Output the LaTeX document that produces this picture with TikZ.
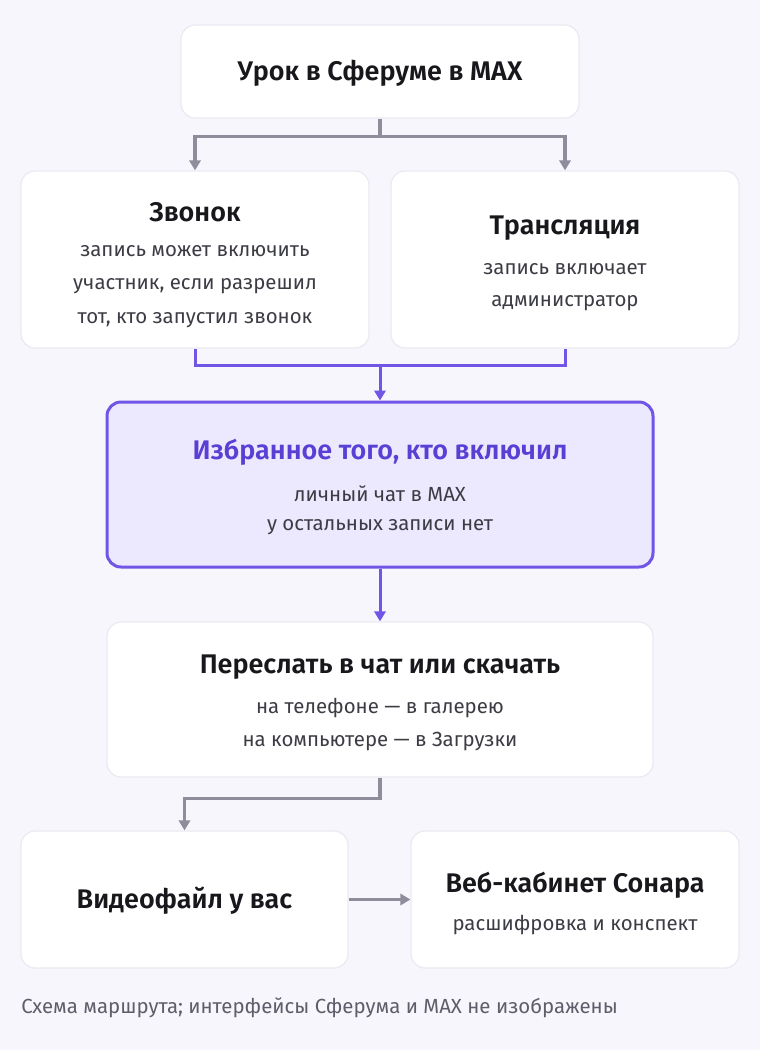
\documentclass[tikz,border=0pt]{standalone}
\usepackage{fontspec}
\setmainfont{Fira Sans}[BoldFont={Fira Sans SemiBold}]
\usetikzlibrary{arrows.meta}
\definecolor{pagebg}{HTML}{F7F6FC}
\definecolor{cardline}{HTML}{ECEAF2}
\definecolor{accent}{HTML}{7055E6}
\definecolor{accentfill}{HTML}{ECE8FD}
\definecolor{accenttext}{HTML}{5A3FD4}
\definecolor{linkgray}{HTML}{8F8C9C}
\definecolor{textprimary}{HTML}{17171C}
\definecolor{textsecondary}{HTML}{3C3C44}
\definecolor{notegray}{HTML}{5E5E6A}
\tikzset{
  card/.style={draw=cardline, line width=1pt, fill=white, rounded corners=10.5pt, inner sep=0pt},
  keycard/.style={draw=accent, line width=2.25pt, fill=accentfill, rounded corners=10.5pt, inner sep=0pt},
  headtext/.style={text=textprimary, font=\fontsize{20.2}{24}\selectfont\bfseries, inner sep=0pt},
  subtext/.style={text=textsecondary, font=\fontsize{15.3}{18}\selectfont, inner sep=0pt, yshift=-2.25pt},
  greylink/.style={linkgray, line width=2.4pt, -{Triangle[length=7.5pt,width=8.5pt]}},
  purplewire/.style={accent, line width=2.25pt},
  purplelink/.style={purplewire, -{Triangle[length=7.5pt,width=8.5pt]}}
}
\begin{document}
\begin{tikzpicture}[x=0.75pt,y=-0.75pt]
    \path[fill=pagebg] (0,0) rectangle (760,1050);

    % Lesson
    \node[card, minimum width=298.5pt, minimum height=69.75pt] (lesson) at (380,71.5) {};
    \node[headtext] (lessonT) at (380,73) {Урок в Сферуме в MAX};

    % Call
    \node[card, minimum width=261pt, minimum height=132.75pt] (call) at (195,259.5) {};
    \node[headtext] (callT) at (195,212) {Звонок};
    \node[subtext] (callA) at (195,248) {запись может включить};
    \node[subtext] (callB) at (195,283) {участник, если разрешил};
    \node[subtext] (callC) at (195,317) {тот, кто запустил звонок};

    % Stream
    \node[card, minimum width=261pt, minimum height=132.75pt] (stream) at (565,259.5) {};
    \node[headtext] (streamT) at (565,228) {Трансляция};
    \node[subtext] (streamA) at (565,266) {запись включает};
    \node[subtext] (streamB) at (565,300) {администратор};

    % Favourites
    \node[keycard, minimum width=409.5pt, minimum height=123.75pt] (fav) at (380,484.5) {};
    \node[headtext, text=accenttext] (favT) at (380,452) {Избранное того, кто включил};
    \node[subtext] (favA) at (380,491) {личный чат в MAX};
    \node[subtext] (favB) at (380,524) {у остальных записи нет};

    % Share
    \node[card, minimum width=409.5pt, minimum height=116.25pt] (share) at (380,699.5) {};
    \node[headtext] (shareT) at (380,667) {Переслать в чат или скачать};
    \node[subtext] (shareA) at (380,705) {на телефоне — в галерею};
    \node[subtext] (shareB) at (380,739) {на компьютере — в Загрузки};

    % Video file
    \node[card, minimum width=245.25pt, minimum height=102.75pt] (video) at (184.5,899.5) {};
    \node[headtext] (videoT) at (184.5,901) {Видеофайл у вас};

    % Web cabinet
    \node[card, minimum width=246pt, minimum height=102.75pt] (web) at (575,899.5) {};
    \node[headtext] (webT) at (575,885) {Веб-кабинет Сонара};
    \node[subtext] (webA) at (575,922) {расшифровка и конспект};

    % Links
    \coordinate (merge) at (380,365);
    \draw[greylink] (lesson.south) -- ++(0,18) -| (call.north);
    \draw[greylink] (lesson.south) -- ++(0,18) -| (stream.north);
    \draw[purplewire] (call.south) |- (merge) -| (stream.south);
    \draw[purplelink] (merge) -- (fav.north);
    \draw[purplelink] (fav.south) -- (share.north);
    \draw[greylink] (share.south) -- ++(0,21) -| (video.north);
    \draw[greylink] (video.east) -- (web.west);

    % Note
    \node[text=notegray, font=\fontsize{15.3}{18}\selectfont, anchor=west, inner sep=0pt] (note) at (21,1008) {Схема маршрута; интерфейсы Сферума и MAX не изображены};
\end{tikzpicture}
\end{document}
